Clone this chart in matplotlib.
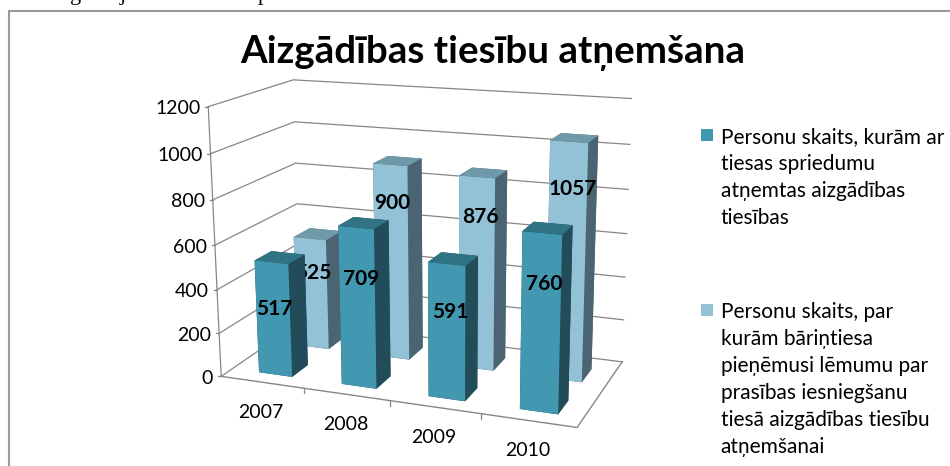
import numpy as np
import matplotlib
matplotlib.use("Agg")
import matplotlib.pyplot as plt
from mpl_toolkits.mplot3d import Axes3D  # noqa

# ---- data -------------------------------------------------------------
years = ["2007", "2008", "2009", "2010"]
court_rulings = [517, 709, 591, 760]
orphan_court_decisions = [525, 900, 876, 1057]
value_ticks = [0, 200, 400, 600, 800, 1000, 1200]
title_text = "Aizgādības tiesību atņemšana"
legend_first = ["Personu skaits, kurām ar", "tiesas spriedumu",
                "atņemtas aizgādības", "tiesības"]
legend_second = ["Personu skaits, par", "kurām bāriņtiesa",
                 "pieņēmusi lēmumu par", "prasības iesniegšanu",
                 "tiesā aizgādības tiesību", "atņemšanai"]

# ---- layout ------------------------------------------------------------
W, H = 950, 466
FONT = "Lato"
DARK = ("#4298B1", "#234C5A", "#2F7385")     # front, side, top
LIGHT = ("#93C2D6", "#4A6571", "#6E99A9")
GRID = "#868686"
zmax = max(value_ticks)
xmax = len(years)
# screen position of the plot box corners: (x, depth, value) -> pixel
corners = [((0, 0, 0), (220, 377)), ((xmax, 0, 0), (577.3, 426.7)),
           ((0, 1, 0), (302, 321)), ((xmax, 1, 0), (621.7, 362.7)),
           ((0, 0, zmax), (209.3, 106.7)), ((0, 1, zmax), (292, 80)),
           ((xmax, 1, zmax), (631.7, 98.3))]
bar_x0, bar_dx = 0.33, 0.405
depth_dark = (0.13, 0.2)
depth_light = (0.61, 0.215)
# pixel centres of the data labels, in series order
label_xy_dark = [(274, 308.7), (360.7, 279.3), (450, 311.7), (544.3, 284.3)]
label_xy_light = [(313.3, 272.7), (392.3, 203.3), (480, 217.3), (572.3, 188.7)]

def solve_projection():
    rows = []
    for (x, y, z), (u, v) in corners:
        rows.append([x, y, z, 1, 0, 0, 0, 0, -u*x, -u*y, -u*z, -u])
        rows.append([0, 0, 0, 0, x, y, z, 1, -v*x, -v*y, -v*z, -v])
    _, _, vt = np.linalg.svd(np.array(rows, float))
    P = vt[-1].reshape(3, 4)
    P /= P[2, 3]
    # third row is only a painter's order: far, left and low faces come first
    order = [-0.02, 1.0, -0.0003, 0.5]
    return np.vstack([P[0], P[1], order, P[2]])

M = solve_projection()

def project(x, y, z):
    q = M @ np.array([x, y, z, 1.0])
    return q[0] / q[3], q[1] / q[3]

def box_line(points, lw=0.9):
    pts = [project(*p) for p in points]
    ax.add_line(plt.Line2D([p[0] for p in pts], [p[1] for p in pts], color=GRID, lw=lw,
                           zorder=1, solid_joinstyle="miter"))

fig = plt.figure(figsize=(W/100, H/100), dpi=100)
ax = fig.add_axes([0, 0, 1, 1], projection="3d", computed_zorder=False)
ax.set_axis_off()
ax.get_proj = lambda: M
ax.apply_aspect = lambda position=None: None
ax.set_xlim3d(0, xmax)
ax.set_ylim3d(0, 1)
ax.set_zlim3d(0, zmax)
ax.viewLim.intervalx = (0, W)
ax.viewLim.intervaly = (H, 0)

# gridlines on the two walls
for v in value_ticks:
    box_line([(0, 0, v), (0, 1, v), (xmax, 1, v)])
    px, py = project(0, 0, v)
    ax.text2D(px - 8, py + 2, str(v), ha="right", va="center", fontsize=14,
              family=FONT, color="black", zorder=20)
    ax.add_line(plt.Line2D([px - 3, px], [py, py], color=GRID, lw=0.9, zorder=1))
box_line([(0, 0, 0), (0, 0, zmax)])
box_line([(0, 0, 0), (xmax, 0, 0), (xmax, 1, 0)], lw=1.0)

for i, year in enumerate(years):
    px, py = project(i + 1, 0, 0)
    if i < len(years) - 1:
        ax.add_line(plt.Line2D([px, px], [py, py + 5], color=GRID, lw=0.9, zorder=1))
    cx, cy = project(i + 0.5, 0, 0)
    ax.text2D(cx - 1, cy + 30, year, ha="center", va="center", fontsize=14,
              family=FONT, color="black", zorder=20)

# the bars
def draw_bars(values, depth, colors, base_zorder):
    front, side, top = colors
    for i, v in enumerate(values):
        face_colors = [side, top, front, side, side, side]
        ax.bar3d(i + bar_x0, depth[0], 0, bar_dx, depth[1], v, color=face_colors,
                 shade=False, edgecolor="none", linewidth=0, zorder=base_zorder + i)

draw_bars(orphan_court_decisions, depth_light, LIGHT, 3)
draw_bars(court_rulings, depth_dark, DARK, 10)

# data labels
for i, (v, (px, py)) in enumerate(zip(orphan_court_decisions, label_xy_light)):
    ax.text2D(px, py, str(v), ha="center", va="center", fontsize=15,
              fontweight="bold", family=FONT, zorder=8 if i == 0 else 20)
for v, (px, py) in zip(court_rulings, label_xy_dark):
    ax.text2D(px, py, str(v), ha="center", va="center", fontsize=15,
              fontweight="bold", family=FONT, zorder=20)

# flat overlay in pixel coordinates: frame, title, legend
over = fig.add_axes([0, 0, 1, 1])
over.set_xlim(0, W)
over.set_ylim(H, 0)
over.axis("off")
over.plot([8.5, 8.5, W], [H, 11, 11], color="#999999", lw=1.5, solid_joinstyle="miter")
over.text(493, 53, title_text, ha="center", va="center", fontsize=27.7,
          fontweight="bold", family=FONT)
for block, color, y0 in ((legend_first, DARK[0], 136.7), (legend_second, LIGHT[0], 311.7)):
    over.add_patch(plt.Rectangle((701, y0 - 7.7), 12.3, 12, facecolor=color, edgecolor="none"))
    for k, line in enumerate(block):
        over.text(720.7, y0 + 27 * k, line, ha="left", va="center", fontsize=15,
                  family=FONT)
# descenders of the document line cut off above the chart
for s, x in (("g", 76), ("j", 123), ("p", 263)):
    over.text(x, 0, s, ha="center", va="baseline", fontsize=16, family="Liberation Serif",
              clip_on=True)

fig.savefig("out.png", dpi=100)
